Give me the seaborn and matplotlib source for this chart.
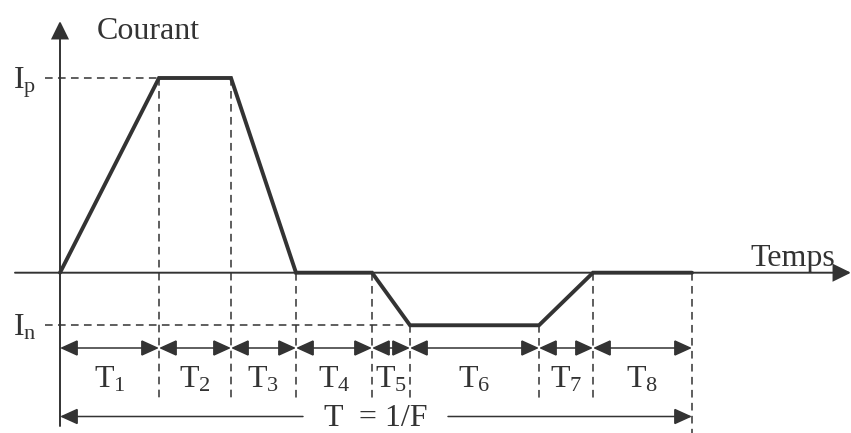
# plot.py
# Current waveform over one period T = 1/F (T1..T8 phases)
# Run: python3 plot.py  -> out.png

import matplotlib
matplotlib.use('Agg')
import matplotlib.pyplot as plt
from matplotlib.patches import FancyArrowPatch
import seaborn as sns
import numpy as np
import pandas as pd

# -------------------------------
# DATA
# -------------------------------
phase_labels = ["T$_1$", "T$_2$", "T$_3$", "T$_4$", "T$_5$", "T$_6$", "T$_7$", "T$_8$"]
durations = [99, 72, 65, 76, 38, 129, 54, 99]          # phase lengths
current_peak = 1.0                                     # I_p
current_neg = -0.27                                    # I_n
levels = [0, current_peak, current_peak, 0, 0, current_neg, current_neg, 0, 0]
level_labels = ["I$_\\mathrm{p}$", "I$_\\mathrm{n}$"]

times = np.concatenate([[0], np.cumsum(durations)])
wave = pd.DataFrame({"t": times, "i": levels})

# -------------------------------
# STYLE
# -------------------------------
sns.set_theme(style="white")
plt.rcParams['font.family'] = ['Liberation Serif', 'DejaVu Serif']
plt.rcParams['mathtext.fontset'] = 'custom'
plt.rcParams['mathtext.rm'] = 'Liberation Serif'
plt.rcParams['mathtext.it'] = 'Liberation Serif:italic'
plt.rcParams['mathtext.default'] = 'rm'

INK = "#333333"
FS = 23

# pixel -> data helpers (figure is 851x433, axes fills it)
X0_PX, Y0_PX, Y_SCALE = 60, 272.7, 194.7
def px_x(p):
    return p - X0_PX
def px_y(p):
    return (Y0_PX - p) / Y_SCALE

fig = plt.figure(figsize=(8.51, 4.33), dpi=100)
ax = fig.add_axes([0, 0, 1, 1])
ax.set_xlim(px_x(0), px_x(851))
ax.set_ylim(px_y(433), px_y(0))
ax.axis("off")


def arrow(x1, y1, x2, y2, style, lw):
    ax.add_patch(FancyArrowPatch((x1, y1), (x2, y2), arrowstyle=style,
                                 mutation_scale=20, color=INK, lw=lw,
                                 shrinkA=0, shrinkB=0, joinstyle="miter"))


# axes with arrows
arrow(px_x(15), 0, px_x(851), 0, "-|>,head_length=0.55,head_width=0.27", 1.4)
arrow(0, px_y(426), 0, px_y(21), "-|>,head_length=0.55,head_width=0.27", 1.4)
ax.text(px_x(97), px_y(39), "Courant", fontsize=FS, color=INK, va="baseline")
ax.text(px_x(835), px_y(266), "Temps", fontsize=FS, color=INK, va="baseline", ha="right")

# level guides
dash = dict(color=INK, lw=1.1, dashes=(5, 3.5))
ax.plot([px_x(45), times[1]], [current_peak, current_peak], **dash)
ax.plot([px_x(45), times[5]], [current_neg, current_neg], **dash)
ax.text(px_x(13), current_peak - 0.055, level_labels[0], fontsize=FS, color=INK, va="baseline")
ax.text(px_x(13), current_neg - 0.05, level_labels[1], fontsize=FS, color=INK, va="baseline")

# vertical guides at each phase boundary
y_guide_end = px_y(402)
for k in range(1, len(times)):
    bottom = y_guide_end if k < len(times) - 1 else px_y(433)
    ax.plot([times[k], times[k]], [levels[k], bottom], **dash)

# waveform
sns.lineplot(data=wave, x="t", y="i", ax=ax, color=INK, lw=2.8,
             sort=False, estimator=None)
ax.lines[-1].set_solid_joinstyle("miter")

# phase arrows and labels
y_arrow = px_y(348)
for k, lab in enumerate(phase_labels):
    arrow(times[k], y_arrow, times[k + 1], y_arrow,
          "<|-|>,head_length=0.55,head_width=0.25", 1.1)
    ax.text((times[k] + times[k + 1]) / 2, px_y(388), lab, fontsize=FS,
            color=INK, ha="center", va="baseline")

# full period
y_period = px_y(416.5)
arrow(px_x(303), y_period, 0, y_period, "-|>,head_length=0.55,head_width=0.25", 1.1)
arrow(px_x(448), y_period, times[-1], y_period, "-|>,head_length=0.55,head_width=0.25", 1.1)
ax.text(px_x(376), px_y(426), "T  = 1/F", fontsize=FS, color=INK, ha="center", va="baseline")

fig.savefig("out.png", dpi=100)
plt.close(fig)
